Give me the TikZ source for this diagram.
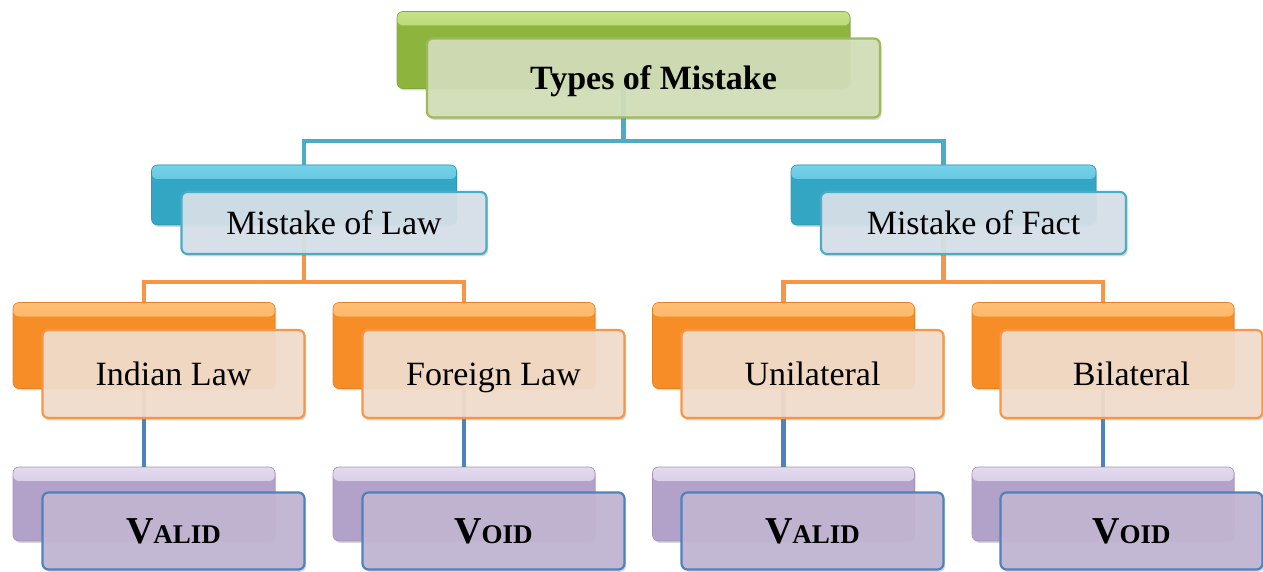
\documentclass[tikz,border=0pt]{standalone}
\usepackage{fontspec}
\setmainfont{Liberation Serif}
\usetikzlibrary{shadows}
\definecolor{gTop}{HTML}{C8E58A}
\definecolor{gBot}{HTML}{8DB53E}
\definecolor{gFront}{HTML}{D3DFB9}
\definecolor{gLine}{HTML}{9BBB59}
\definecolor{bTop}{HTML}{7AD6EC}
\definecolor{bBot}{HTML}{33A6C4}
\definecolor{bFront}{HTML}{D7E1EA}
\definecolor{bLine}{HTML}{4BACC6}
\definecolor{oTop}{HTML}{FFC27A}
\definecolor{oBot}{HTML}{F68D26}
\definecolor{oFront}{HTML}{F3DDCC}
\definecolor{oLine}{HTML}{F79646}
\definecolor{pTop}{HTML}{E6DDF0}
\definecolor{pBot}{HTML}{B2A1C9}
\definecolor{pFront}{HTML}{C2B6D3}
\definecolor{pLine}{HTML}{4F81BD}
\begin{document}
\begin{tikzpicture}[x=0.5pt,y=-0.5pt,
  backbox/.style 2 args={rounded corners=3pt, inner sep=0pt, fill=#2,
    draw=#2!92!black, line width=0.3pt,
    path picture={\shade[top color=#1, bottom color=#2]
      ([yshift=2pt]path picture bounding box.north west) rectangle
      ([yshift=-7pt]path picture bounding box.north east);},
    drop shadow={shadow xshift=0.6pt, shadow yshift=-0.9pt, opacity=0.3}},
  frontbox/.style 2 args={rounded corners=3pt, inner sep=0pt, fill=#1, fill opacity=0.93,
    text opacity=1, draw=#2, line width=1.1pt,
    drop shadow={shadow xshift=0.8pt, shadow yshift=-1.2pt, opacity=0.3},
    font=\fontsize{17}{20}\selectfont, text height=11.3pt, text depth=0pt},
  topsz/.style={minimum width=226.5pt, minimum height=38.5pt},
  l2sz/.style={minimum width=152.5pt, minimum height=30pt},
  l3sz/.style={minimum width=131pt, minimum height=43pt},
  l4sz/.style={minimum width=131pt, minimum height=37pt},
  conn/.style={draw=#1, line width=2.3pt},
  vtext/.style={font=\bfseries, text height=12.4pt}
]
\useasboundingbox (0,0) rectangle (1263,572);
% back boxes
\node[backbox={gTop}{gBot}, topsz] (topb) at (623.5,50) {};
\node[backbox={bTop}{bBot}, l2sz] (lawb) at (304,195) {};
\node[backbox={bTop}{bBot}, l2sz] (factb) at (943.5,195) {};
\node[backbox={oTop}{oBot}, l3sz] (indb) at (144,345.5) {};
\node[backbox={oTop}{oBot}, l3sz] (forb) at (464,345.5) {};
\node[backbox={oTop}{oBot}, l3sz] (unib) at (783.5,345.5) {};
\node[backbox={oTop}{oBot}, l3sz] (bilb) at (1103,345.5) {};
\node[backbox={pTop}{pBot}, l4sz] (v1b) at (144,504) {};
\node[backbox={pTop}{pBot}, l4sz] (v2b) at (464,504) {};
\node[backbox={pTop}{pBot}, l4sz] (v3b) at (783.5,504) {};
\node[backbox={pTop}{pBot}, l4sz] (v4b) at (1103,504) {};
% junctions
\coordinate (j1) at (623.5,141);
\coordinate (j2) at (304,282);
\coordinate (j3) at (943.5,282);
% connectors
\draw[conn=bLine] (topb.south) -- (j1);
\draw[conn=bLine] (lawb.north) |- (j1) -| (factb.north);
\draw[conn=oLine] (lawb.south) -- (j2);
\draw[conn=oLine] (indb.north) |- (j2) -| (forb.north);
\draw[conn=oLine] (factb.south) -- (j3);
\draw[conn=oLine] (unib.north) |- (j3) -| (bilb.north);
\draw[conn=pLine] (indb.south) -- (v1b.north);
\draw[conn=pLine] (forb.south) -- (v2b.north);
\draw[conn=pLine] (unib.south) -- (v3b.north);
\draw[conn=pLine] (bilb.south) -- (v4b.north);
% front boxes
\node[frontbox={gFront}{gLine}, topsz, minimum height=39.5pt, font=\fontsize{17}{20}\selectfont\bfseries] (top) at (653.5,78) {Types of Mistake};
\node[frontbox={bFront}{bLine}, l2sz, minimum height=31pt] (law) at (334,223) {Mistake of Law};
\node[frontbox={bFront}{bLine}, l2sz, minimum height=31pt] (fact) at (973.5,223) {Mistake of Fact};
\node[frontbox={oFront}{oLine}, l3sz, minimum height=44pt] (ind) at (173.5,374) {Indian Law};
\node[frontbox={oFront}{oLine}, l3sz, minimum height=44pt] (for) at (493.5,374) {Foreign Law};
\node[frontbox={oFront}{oLine}, l3sz, minimum height=44pt] (uni) at (812.5,374) {Unilateral};
\node[frontbox={oFront}{oLine}, l3sz, minimum height=44pt] (bil) at (1131.5,374) {Bilateral};
\node[frontbox={pFront}{pLine}, l4sz, minimum height=38.5pt, vtext] (v1) at (173.5,531) {{\fontsize{19}{20}\selectfont V}{\fontsize{13.5}{20}\selectfont ALID}};
\node[frontbox={pFront}{pLine}, l4sz, minimum height=38.5pt, vtext] (v2) at (493.5,531) {{\fontsize{19}{20}\selectfont V}{\fontsize{13.5}{20}\selectfont OID}};
\node[frontbox={pFront}{pLine}, l4sz, minimum height=38.5pt, vtext] (v3) at (812.5,531) {{\fontsize{19}{20}\selectfont V}{\fontsize{13.5}{20}\selectfont ALID}};
\node[frontbox={pFront}{pLine}, l4sz, minimum height=38.5pt, vtext] (v4) at (1131.5,531) {{\fontsize{19}{20}\selectfont V}{\fontsize{13.5}{20}\selectfont OID}};
\end{tikzpicture}
\end{document}
